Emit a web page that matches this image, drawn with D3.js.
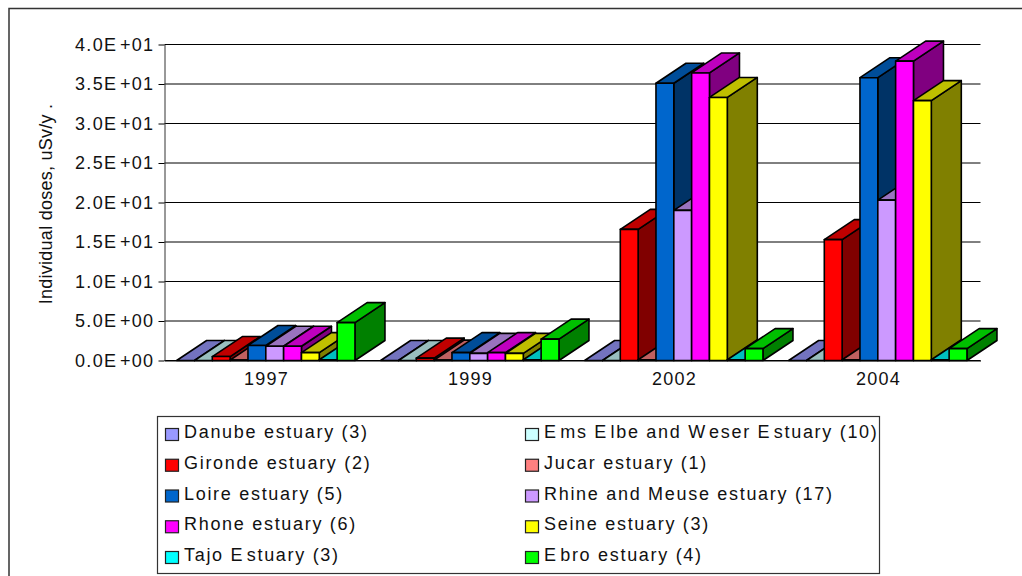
<!DOCTYPE html>
<html>
<head>
<meta charset="utf-8">
<script src="https://cdn.jsdelivr.net/npm/d3@7"></script>
<style>
    html, body { margin: 0; padding: 0; background: #fff; overflow: hidden; }
    text { font-family: "Liberation Sans", Arial, sans-serif; fill: #111; }
</style>
</head>
<body>
<div id="chart"></div>
<script>
// Data
const years = ["1997", "1999", "2002", "2004"];
const seriesNames = [
    "Danube estuary (3)", "Ems Elbe and Weser Estuary (10)",
    "Gironde estuary (2)", "Jucar estuary (1)",
    "Loire estuary (5)", "Rhine and Meuse estuary (17)",
    "Rhone estuary (6)", "Seine estuary (3)",
    "Tajo Estuary (3)", "Ebro estuary (4)"
];
const seriesColors = [
    "#9999ff", "#ccffff", "#ff0000", "#ff8080", "#0066cc",
    "#cc99ff", "#ff00ff", "#ffff00", "#00ffff", "#00ff00"
];
const danube = [0, 0, 0, 0];
const ems = [0, 0, 0, 0];
const gironde = [0.5, 0.3, 16.6, 15.3];
const jucar = [0.05, 0.05, 0.1, 0.1];
const loire = [1.9, 1.0, 35.1, 35.8];
const rhine = [1.8, 0.9, 19.0, 20.3];
const rhone = [1.8, 1.0, 36.4, 37.9];
const seine = [1.0, 0.9, 33.3, 32.9];
const tajo = [0.1, 0.1, 0.1, 0.1];
const ebro = [4.8, 2.7, 1.5, 1.5];
const seriesValues = [danube, ems, gironde, jucar, loire, rhine, rhone, seine, tajo, ebro];
const yTicks = [0, 5, 10, 15, 20, 25, 30, 35, 40];
const yTickLabels = ["0.0E+00", "5.0E+00", "1.0E+01", "1.5E+01", "2.0E+01", "2.5E+01", "3.0E+01", "3.5E+01", "4.0E+01"];

const width = 1022;
const height = 576;
const plot = { left: 164.5, right: 980.5, top: 44.5, bottom: 360.5 };
const depth = { dx: 30, dy: 20 };

const svg = d3.select("#chart")
    .append("svg")
    .attr("width", width)
    .attr("height", height)
    .style("display", "block");

// Writes text with the wide gap the original has after E and W
function spacedText(sel, str) {
    str.split(/(?<=[EW])/).forEach((part, i) => {
        sel.append("tspan").attr("dx", i === 0 ? 0 : 2.5).text(part);
    });
}

const shade = (color, k) => {
    const c = d3.rgb(color);
    return d3.rgb(c.r * k, c.g * k, c.b * k).formatHex();
};

// Outer frame runs off the right and bottom of the picture
svg.append("rect")
    .attr("x", 9)
    .attr("y", 8.5)
    .attr("width", 1100)
    .attr("height", 700)
    .attr("fill", "none")
    .attr("stroke", "#333")
    .attr("stroke-width", 1.5);

// Scales
const x = d3.scaleBand().domain(years).range([plot.left, plot.right]);
const xBar = d3.scaleBand()
    .domain(d3.range(seriesNames.length))
    .range([0, x.bandwidth()])
    .paddingOuter(0.72);
const y = d3.scaleLinear().domain([0, 40]).range([plot.bottom, plot.top]);

// Gridlines
svg.append("g")
    .selectAll("line")
    .data(yTicks)
    .join("line")
    .attr("x1", plot.left)
    .attr("x2", plot.right)
    .attr("y1", d => y(d))
    .attr("y2", d => y(d))
    .attr("stroke", "#000")
    .attr("stroke-width", 1);

// Y axis
const yAxis = svg.append("g")
    .attr("transform", `translate(${plot.left},0)`)
    .call(d3.axisLeft(y).tickValues(yTicks).tickSize(6).tickSizeOuter(0).tickFormat(""));
yAxis.select(".domain").attr("stroke", "#333");
yAxis.selectAll(".tick line").attr("stroke", "#000");

svg.append("g")
    .selectAll("text")
    .data(yTicks)
    .join("text")
    .attr("x", 154.5)
    .attr("y", d => y(d))
    .attr("dy", "0.36em")
    .attr("text-anchor", "end")
    .style("font-size", "18px")
    .style("letter-spacing", "1.36px")
    .each(function (d, i) { spacedText(d3.select(this), yTickLabels[i]); });

svg.append("text")
    .attr("text-anchor", "middle")
    .attr("transform", "rotate(-90)")
    .attr("x", -204)
    .attr("y", 52)
    .style("font-size", "18px")
    .style("letter-spacing", "0.25px")
    .text("Individual doses, uSv/y .");

// X axis line and labels
const xAxis = svg.append("g")
    .attr("transform", `translate(0,${plot.bottom})`)
    .call(d3.axisBottom(x).tickSize(0).tickPadding(12));
xAxis.select(".domain").attr("stroke", "#000");
xAxis.selectAll("text")
    .style("font-size", "18px")
    .style("font-family", '"Liberation Sans", Arial, sans-serif')
    .style("letter-spacing", "1.3px")
    .attr("fill", "#111");

// 3D bars, painted left to right so each bar covers the side of the one before
const bars = svg.append("g")
    .attr("transform", "translate(-0.7,0)")
    .attr("stroke", "#000")
    .attr("stroke-width", 1.6)
    .attr("stroke-linejoin", "round");

years.forEach((year, yi) => {
    seriesNames.forEach((name, si) => {
        const x0 = x(year) + xBar(si);
        const x1 = x0 + xBar.bandwidth();
        const yTop = y(seriesValues[si][yi]);
        const base = y(0);
        const color = seriesColors[si];
        const g = bars.append("g");
        g.append("polygon")
            .attr("points", [[x1, base], [x1 + depth.dx, base - depth.dy], [x1 + depth.dx, yTop - depth.dy], [x1, yTop]].join(" "))
            .attr("fill", shade(color, 0.5));
        g.append("polygon")
            .attr("points", [[x0, yTop], [x0 + depth.dx, yTop - depth.dy], [x1 + depth.dx, yTop - depth.dy], [x1, yTop]].join(" "))
            .attr("fill", shade(color, 0.75));
        g.append("rect")
            .attr("x", x0)
            .attr("y", yTop)
            .attr("width", x1 - x0)
            .attr("height", base - yTop)
            .attr("fill", color);
    });
});

// Legend
const legendX = d3.scalePoint().domain([0, 1]).range([165, 525]);
const legendY = d3.scalePoint().domain(d3.range(5)).range([434, 557]);

svg.append("rect")
    .attr("x", 157.5)
    .attr("y", 416.5)
    .attr("width", 722)
    .attr("height", 157)
    .attr("fill", "#fff")
    .attr("stroke", "#333")
    .attr("stroke-width", 1.2);

const legend = svg.append("g")
    .selectAll("g")
    .data(seriesNames)
    .join("g")
    .attr("transform", (d, i) => `translate(${legendX(i % 2)},${legendY(Math.floor(i / 2))})`);

legend.append("rect")
    .attr("x", 0.5)
    .attr("y", -5.5)
    .attr("width", 13)
    .attr("height", 12)
    .attr("fill", (d, i) => seriesColors[i])
    .attr("stroke", "#222")
    .attr("stroke-width", 1.2);

legend.append("text")
    .attr("x", 19)
    .attr("y", 4)
    .style("font-size", "18px")
    .style("letter-spacing", "1.7px")
    .each(function (d) { spacedText(d3.select(this), d); });
</script>
</body>
</html>
